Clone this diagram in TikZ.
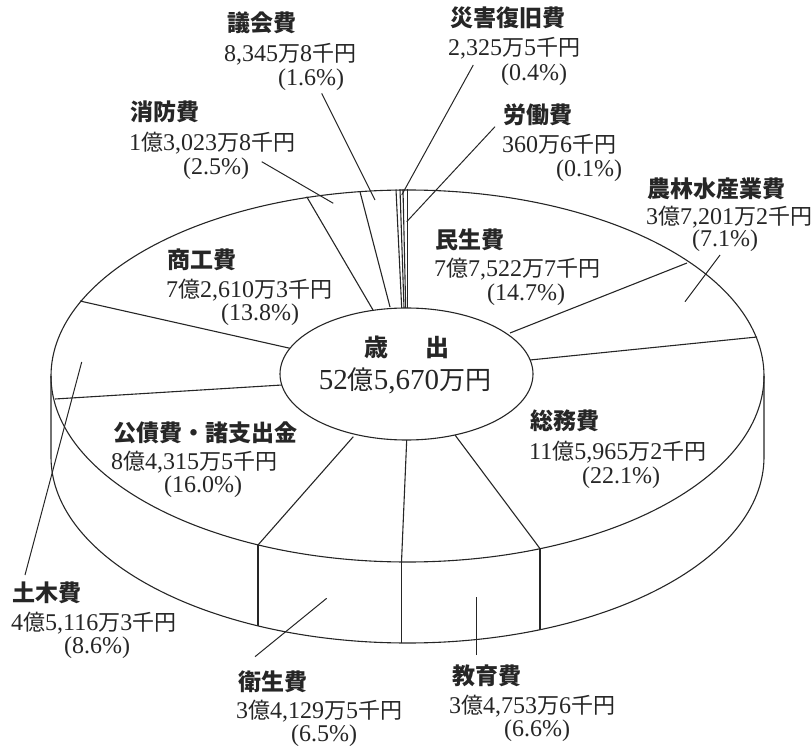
\documentclass[tikz,border=0pt]{standalone}
\usepackage{fontspec}
\setmainfont{Liberation Serif}
\newfontfamily\cjk{Noto Sans CJK JP}
\newcommand\K[1]{{\cjk\fontsize{22}{24}\selectfont #1}}
\tikzset{
  pie/.style={line width=1.1pt, draw=black!85},
  lead/.style={line width=1pt, draw=black!85},
  ttl/.style={anchor=west, inner sep=0pt, text height=19pt, text depth=2pt, text=black!85,
    font=\cjk\bfseries\fontsize{23}{25}\selectfont},
  amt/.style={anchor=west, inner sep=0pt, text height=19pt, text depth=2pt, text=black!85,
    font=\fontsize{24}{26}\selectfont},
}
\begin{document}
\begin{tikzpicture}[x=1pt,y=-1pt]
\useasboundingbox (0,0) rectangle (812,746);
% ---- pie body ----
\draw[pie] (407.5,376) ellipse [x radius=356.5pt, y radius=186pt];
\draw[pie] (51,376) -- (51,457) arc[start angle=180, end angle=360, x radius=356.5pt, y radius=186pt] -- (764,376);
\draw[pie] (258,545) -- (258,626);
\draw[pie] (401.5,562) -- (401.5,643);
\draw[pie] (540,548.6) -- (540,629.6);
% ---- slice boundaries (inner point -> outer point) ----
\coordinate (i1) at (390,307);   \coordinate (o1) at (360,191.7);
\coordinate (i2) at (373,310);   \coordinate (o2) at (306.7,196.7);
\coordinate (i3) at (290,348.3); \coordinate (o3) at (80,301);
\coordinate (i4) at (282,385);   \coordinate (o4) at (55,399);
\coordinate (i5) at (353.3,436.7); \coordinate (o5) at (258,545);
\coordinate (i6) at (406.7,440); \coordinate (o6) at (401.5,562);
\coordinate (i7) at (455,435);   \coordinate (o7) at (540,548.6);
\coordinate (i8) at (530,360);   \coordinate (o8) at (757,337);
\coordinate (i9) at (510,333);   \coordinate (o9) at (687,263);
\coordinate (iA) at (401.7,308); \coordinate (oA) at (396,189.5);
\coordinate (iB) at (404,308);   \coordinate (oB) at (400,189.5);
\coordinate (iC) at (405.7,308); \coordinate (oC) at (403,189.5);
\coordinate (iD) at (407.7,308); \coordinate (oD) at (407.7,189.5);
\foreach \k in {1,2,3,4,5,6,7,8,9,A,B,C,D} \draw[pie] (i\k) -- (o\k);
% ---- centre ----
\draw[pie, fill=white] (406.5,374) ellipse [x radius=126.5pt, y radius=66pt];
\node[inner sep=0pt, text=black!85, font=\cjk\bfseries\fontsize{24}{26}\selectfont] (tt) at (407,347) {歳\hspace{38pt}出};
\node[inner sep=0pt, text=black!85, font=\fontsize{29}{31}\selectfont] (tv) at (405,381) {52{\cjk\fontsize{26}{28}\selectfont 億}5,670{\cjk\fontsize{26}{28}\selectfont 万円}};
% ---- labels ----
\node[ttl] (g1) at (227,23) {議会費};
\node[amt] (g2) at (224,53) {8,345\K{万}8\K{千円}};
\node[amt] (g3) at (278,77) {(1.6\%)};
\node[ttl] (s1) at (130,112) {消防費};
\node[amt] (s2) at (129,142) {1\K{億}3,023\K{万}8\K{千円}};
\node[amt] (s3) at (183,166) {(2.5\%)};
\node[ttl] (k1) at (167,260) {商工費};
\node[amt] (k2) at (166,289) {7\K{億}2,610\K{万}3\K{千円}};
\node[amt] (k3) at (221,312) {(13.8\%)};
\node[ttl] (d1) at (450,18) {災害復旧費};
\node[amt] (d2) at (448,47) {2,325\K{万}5\K{千円}};
\node[amt] (d3) at (501,72) {(0.4\%)};
\node[ttl] (r1) at (503,115) {労働費};
\node[amt] (r2) at (502,144) {360\K{万}6\K{千円}};
\node[amt] (r3) at (556,168) {(0.1\%)};
\node[ttl] (n1) at (647,189) {農林水産業費};
\node[amt] (n2) at (646,216) {3\K{億}7,201\K{万}2\K{千円}};
\node[amt] (n3) at (692,238) {(7.1\%)};
\node[ttl] (m1) at (435,240) {民生費};
\node[amt] (m2) at (434,268) {7\K{億}7,522\K{万}7\K{千円}};
\node[amt] (m3) at (487,292) {(14.7\%)};
\node[ttl] (c1) at (113,433) {公債費・諸支出金};
\node[amt] (c2) at (111,461) {8\K{億}4,315\K{万}5\K{千円}};
\node[amt] (c3) at (164,484) {(16.0\%)};
\node[ttl] (t1) at (12,593) {土木費};
\node[amt] (t2) at (11,622) {4\K{億}5,116\K{万}3\K{千円}};
\node[amt] (t3) at (64,645) {(8.6\%)};
\node[ttl] (e1) at (238,682) {衛生費};
\node[amt] (e2) at (236,710) {3\K{億}4,129\K{万}5\K{千円}};
\node[amt] (e3) at (291,733) {(6.5\%)};
\node[ttl] (a1) at (530,421) {総務費};
\node[amt] (a2) at (529,451) {11\K{億}5,965\K{万}2\K{千円}};
\node[amt] (a3) at (582,475) {(22.1\%)};
\node[ttl] (b1) at (452,676) {教育費};
\node[amt] (b2) at (449,705) {3\K{億}4,753\K{万}6\K{千円}};
\node[amt] (b3) at (504,728) {(6.6\%)};
% ---- leaders ----
\coordinate (gL) at (321.7,93.3);  \coordinate (gP) at (375,200);
\coordinate (sL) at (261.7,161.7); \coordinate (sP) at (333.3,203.3);
\coordinate (dL) at (473.3,65);    \coordinate (dP) at (401.7,195);
\coordinate (rL) at (495,126.7);   \coordinate (rP) at (406.7,221.7);
\coordinate (nL) at (720,255);     \coordinate (nP) at (685,301.7);
\coordinate (tL) at (25,575);      \coordinate (tP) at (81.7,362);
\coordinate (eL) at (255,656.7);   \coordinate (eP) at (326.7,598.3);
\coordinate (bL) at (476.7,655);   \coordinate (bP) at (476.7,596.7);
\foreach \k in {g,s,d,r,n,t,e,b} \draw[lead] (\k L) -- (\k P);
\end{tikzpicture}
\end{document}
